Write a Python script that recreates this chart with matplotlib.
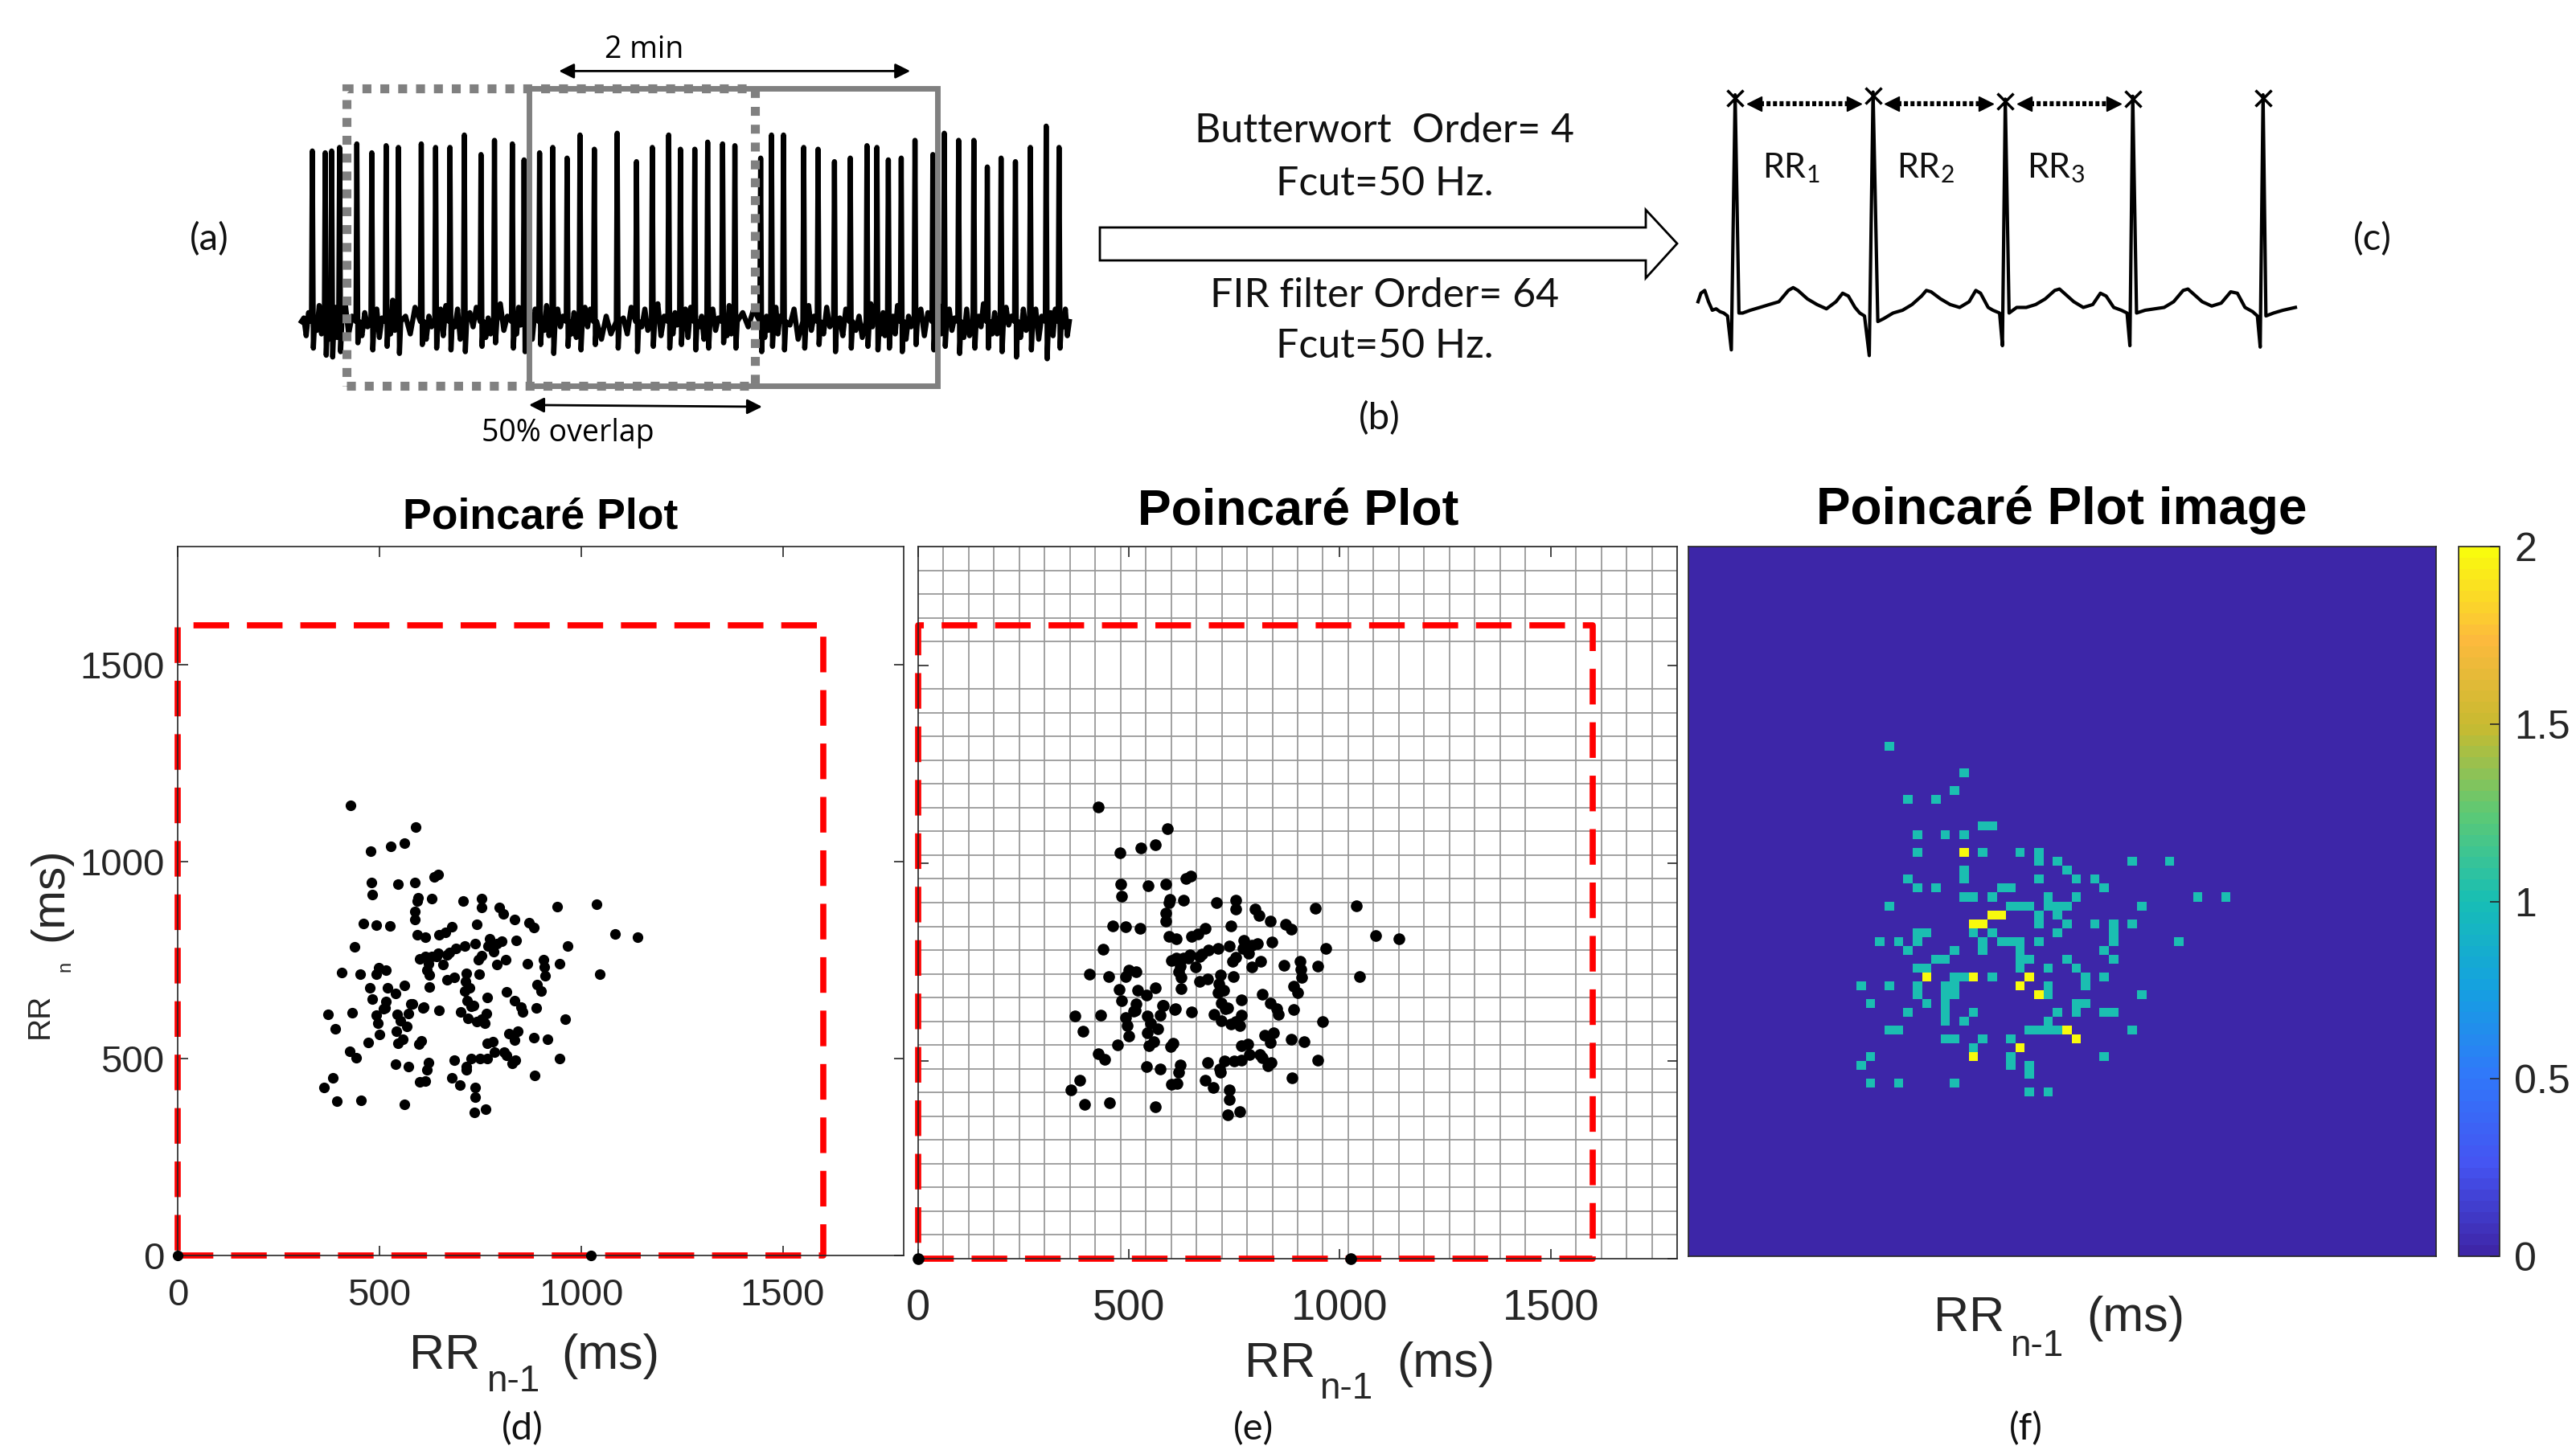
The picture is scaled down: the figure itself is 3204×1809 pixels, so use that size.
import numpy as np
import matplotlib
matplotlib.use("Agg")
import matplotlib.pyplot as plt
from matplotlib.colors import LinearSegmentedColormap
from matplotlib.patches import Polygon, Rectangle

W, H, DPI = 3204, 1809, 100

# ---------------- data: Poincare plot ----------------
rr_prev = [428,591,479,528,563,480,483,546,588,597,594,630,635,646,461,492,527,588,588,594,
           613,648,664,680,438,406,452,499,492,516,476,521,562,483,516,511,541,582,610,648,
           624,624,617,600,613,622,630,641,645,657,668,673,689,668,686,711,708,754,753,741,
           738,746,748,716,713,724,711,718,728,702,719,734,741,754,762,766,767,753,770,773,
           783,792,798,808,804,813,791,836,839,871,884,941,1039,1085,1141,1046,966,947,906,908,
           910,900,891,890,868,816,836,851,855,843,821,835,816,785,810,837,830,884,916,960,
           947,886,767,782,767,750,727,686,715,716,680,699,738,738,735,763,562,454,395,384,
           363,372,391,433,427,442,473,500,541,573,543,544,547,568,559,552,573,579,604,598,
           622,617,600,614,608,492,496,514]
rr_next = [1142,1087,1026,1039,1047,946,917,943,946,909,900,906,961,967,842,839,836,874,853,815,
           809,815,821,834,783,719,714,730,714,725,680,679,685,652,644,626,666,639,631,623,
           682,712,725,754,759,740,759,760,767,738,764,770,780,700,706,785,900,906,884,841,
           791,752,714,717,695,679,672,647,632,618,602,634,594,599,589,615,655,762,785,805,
           772,792,884,868,797,751,738,853,800,845,832,885,892,816,808,714,785,740,751,732,
           711,672,688,629,741,669,647,631,618,570,564,546,508,516,516,495,488,554,548,599,
           501,458,538,543,501,500,500,496,479,471,451,432,426,403,363,371,383,394,391,451,
           426,613,575,616,519,503,541,562,485,480,570,613,538,581,549,596,615,639,544,536,
           490,472,440,442,629,610,589,628]
zero_prev = [0, 1025]
zero_next = [0, 0]
image_range = [0, 1600]
image_bins = 80
grid_step = 60
axis_max = 1800
poincare_ticks = [0, 500, 1000, 1500]
cbar_ticks = [0, 0.5, 1, 1.5, 2]
cbar_ticklabels = ["0", "0.5", "1", "1.5", "2"]

# ---------------- data: ECG segment (a) ----------------
a_peak_t = [3.7,8.1,10.3,13.0,18.9,24.0,28.9,33.1,40.9,45.8,50.7,55.6,61.3,65.9,72.0,76.0,
            81.3,85.8,90.7,95.1,100.0,107.8,114.4,119.8,125.4,129.4,134.3,138.7,143.8,148.0,
            156.8,160.5,164.6,171.5,176.4,182.0,187.4,193.1,196.5,200.4,204.8,209.5,215.6,
            219.5,224.4,229.6,234.2,238.9,243.8,248.9,254.3,258.7]
a_peak_v = [0.96,0.95,0.96,0.98,1.0,0.95,0.99,0.98,1.0,0.98,0.98,1.05,0.94,1.02,1.0,0.91,
            0.95,0.98,0.92,1.05,0.97,1.06,0.9,0.98,1.05,0.97,0.97,1.01,1.0,0.99,0.92,1.05,
            1.05,0.98,0.97,0.9,0.92,0.99,0.98,0.91,0.92,1.02,0.94,1.06,1.02,1.02,0.87,0.92,
            0.9,0.98,1.1,0.98]
a_dip_v = [-0.15,-0.19,-0.20,-0.17,-0.12,-0.16,-0.14,-0.18,-0.13,-0.15,
           -0.16,-0.17,-0.14,-0.12,-0.15,-0.17,-0.13,-0.18,-0.14,-0.16,
           -0.13,-0.15,-0.17,-0.14,-0.15,-0.13,-0.16,-0.15,-0.12,-0.15,
           -0.17,-0.14,-0.16,-0.15,-0.13,-0.17,-0.15,-0.14,-0.16,-0.15,
           -0.17,-0.13,-0.16,-0.14,-0.18,-0.15,-0.15,-0.17,-0.20,-0.16,
           -0.21,-0.15]
a_wiggle = [0.02,-0.08,0.05, -0.05,0.09,-0.07, 0.03,-0.10,0.07, -0.03,0.08,-0.09,
            0.10,-0.07,0.03, -0.08,0.05,-0.03, 0.07,-0.09,0.02, -0.07,0.12,-0.05,
            0.03,-0.07,0.08, -0.10,0.03,-0.03, 0.07,-0.08,0.09, -0.03,0.07,-0.10,
            0.05,-0.03,0.08, -0.09,0.02,-0.07, 0.10,-0.05,0.03, -0.07,0.08,-0.02,
            0.03,-0.10,0.07, -0.05,0.09,-0.08, 0.07,-0.03,0.03, -0.07,0.05,-0.09,
            0.08,-0.03,0.07, -0.10,0.03,-0.07, 0.02,-0.07,0.08, -0.03,0.07,-0.05,
            0.10,-0.08,0.03, -0.07,0.05,-0.02, 0.07,-0.09,0.08, -0.03,0.03,-0.10,
            0.07,-0.05,0.02, -0.08,0.09,-0.07, 0.05,-0.03,0.07, -0.09,0.03,-0.05,
            0.08,-0.07,0.03, -0.02,0.07,-0.10, 0.09,-0.05,0.03, -0.07,0.08,-0.03,
            0.02,-0.08,0.07, -0.05,0.03,-0.09, 0.10,-0.03,0.07, -0.07,0.05,-0.08,
            0.03,-0.07,0.09, -0.10,0.03,-0.03, 0.07,-0.08,0.05, -0.03,0.09,-0.07,
            0.07,-0.05,0.02, -0.09,0.07,-0.08, 0.03,-0.03,0.10, -0.07,0.05,-0.07,
            0.08,-0.02,0.03, -0.09,0.07,-0.05, 0.07,-0.10,0.03, 0.05,-0.08,0.07,
            -0.03,0.07,-0.08]
a_end_t = 262.2
win_start = [15.4, 77.7]
win_len = 139.5
two_min = [87.9, 207.9]
overlap = [77.7, 157.3]

# ---------------- data: ECG detail (c) ----------------
c_t = [0,.015,.035,.055,.075,.095,.115,.135,.155,.175,.195,.215,.235,.275,.325,.375,.425,.475,.5,
       .525,.575,.625,.675,.725,.76,.79,.825,.85,.875,.9,.92,.945,.975,1.025,1.075,1.125,1.175,
       1.2,1.225,1.275,1.325,1.375,1.425,1.46,1.485,1.525,1.55,1.585,1.6,1.615,1.635,1.675,
       1.725,1.775,1.825,1.875,1.9,1.925,1.975,2.025,2.075,2.115,2.145,2.185,2.225,2.255,
       2.27,2.285,2.305,2.35,2.4,2.45,2.5,2.55,2.575,2.6,2.65,2.7,2.75,2.8,2.835,2.875,2.915,
       2.94,2.955,2.97,2.985,3.025,3.075,3.14]
c_v = [0.079,0.158,0.184,0.079,0.0,0.013,-0.013,-0.026,-0.053,-0.368,2.0,-0.026,-0.026,0.0,
       0.026,0.053,0.079,0.184,0.21,0.184,0.105,0.053,0.013,0.079,0.158,0.132,0.026,-0.026,
       -0.053,-0.421,2.026,-0.105,-0.079,-0.026,0.0,0.053,0.132,0.184,0.171,0.105,0.053,0.026,
       0.079,0.184,0.158,0.026,0.0,-0.026,-0.329,1.96,-0.026,0.026,0.026,0.053,0.105,0.184,
       0.197,0.158,0.079,0.026,0.053,0.158,0.132,0.026,0.0,-0.026,-0.329,1.987,-0.026,0.0,
       0.013,0.026,0.079,0.184,0.197,0.158,0.079,0.039,0.066,0.171,0.158,0.026,-0.013,-0.053,
       -0.342,2.0,-0.053,-0.026,0.0,0.026]
c_r_t = [0.195, 0.92, 1.615, 2.285, 2.97]
c_r_v = [1.97, 1.99, 1.94, 1.96, 1.97]
rr_names = [r"RR$_{1}$", r"RR$_{2}$", r"RR$_{3}$"]

# parula-like colormap anchors
parula_pos = [0.0, 0.125, 0.25, 0.375, 0.5, 0.625, 0.75, 0.875, 1.0]
parula_rgb = [(0.2422, 0.1504, 0.6603), (0.2700, 0.3300, 0.9500), (0.1900, 0.4700, 0.9800),
              (0.0800, 0.6300, 0.8800), (0.0900, 0.7450, 0.7100), (0.3600, 0.7900, 0.4600),
              (0.7800, 0.7300, 0.1900), (0.9900, 0.7300, 0.2400), (0.9763, 0.9831, 0.0538)]

# ---------------- figure ----------------
plt.rcParams['font.family'] = ['Liberation Sans', 'DejaVu Sans']
plt.rcParams['mathtext.default'] = 'regular'
TXT = '#262626'
LIGHT = dict(family=['Lato', 'DejaVu Sans'], fontweight='normal', color='#111111')

fig = plt.figure(figsize=(W / DPI, H / DPI), dpi=DPI)


def px_axes(l, t, r, b, **kw):
    return fig.add_axes([l / W, 1 - b / H, (r - l) / W, (b - t) / H], **kw)


ov = px_axes(0, 0, W, H)
ov.set_xlim(0, W)
ov.set_ylim(H, 0)
ov.axis('off')

# ---- (a) ECG segment with windows ----
ax_a = px_axes(375, 40, 1330, 560)
ax_a.set_xlim(0, a_end_t)
ax_a.set_ylim(-0.724, 1.629)
ax_a.axis('off')
tr_t, tr_v = [0.0], [0.0]
prev = 0.0
for i, (t, pv, dv) in enumerate(zip(a_peak_t, a_peak_v, a_dip_v)):
    w = a_wiggle[3 * i:3 * i + 3]
    seg_end = t - 0.5
    for j, val in enumerate(w):
        tr_t.append(prev + (seg_end - prev) * (j + 1) / (len(w) + 1))
        tr_v.append(val)
    tr_t += [t - 0.3, t, t + 0.35, t + 0.8]
    tr_v += [0.0, pv, dv, 0.0]
    prev = t + 0.8
w = a_wiggle[3 * len(a_peak_t):]
for j, val in enumerate(w):
    tr_t.append(prev + (a_end_t - prev) * (j + 1) / (len(w) + 1))
    tr_v.append(val)
tr_t.append(a_end_t)
tr_v.append(0.0)
ax_a.plot(tr_t, tr_v, color='k', lw=4.6, solid_joinstyle='round', clip_on=False, zorder=2)
ax_a.add_patch(Rectangle((win_start[0], -0.36), win_len, 1.67, fill=False, ec='#808080',
                         lw=8, ls=(0, (1, 1)), clip_on=False, zorder=3))
ax_a.add_patch(Rectangle((win_start[1], -0.36), win_len, 1.67, fill=False, ec='#808080',
                         lw=5, clip_on=False, zorder=3))
ax_a.annotate('', xy=(two_min[1], 1.41), xytext=(two_min[0], 1.41),
              arrowprops=dict(arrowstyle='<|-|>', color='k', lw=2, mutation_scale=28,
                              shrinkA=0, shrinkB=0), annotation_clip=False)
ax_a.text(117, 1.53, '2 min', ha='center', va='center', fontsize=27, family='Open Sans')
ax_a.annotate('', xy=(overlap[1], -0.48), xytext=(overlap[0], -0.47),
              arrowprops=dict(arrowstyle='<|-|>', color='k', lw=2, mutation_scale=28,
                              shrinkA=0, shrinkB=0), annotation_clip=False)
ax_a.text(91, -0.63, '50% overlap', ha='center', va='center', fontsize=27, family='Open Sans')

# ---- (b) arrow and filter text ----
ov.add_patch(Polygon([(1368, 283), (2047, 283), (2047, 261), (2086, 303), (2047, 346),
                      (2047, 324), (1368, 324)], closed=True, fc='white', ec='k', lw=2))
for txt, y in [("Butterwort  Order= 4", 163), ("Fcut=50 Hz.", 229),
               ("FIR filter Order= 64", 368), ("Fcut=50 Hz.", 431)]:
    ov.text(1722, y, txt, ha='center', va='center', fontsize=36, **LIGHT)

# ---- (c) ECG detail ----
ax_c = px_axes(2112, 100, 2855, 470)
ax_c.set_xlim(0, 3.14)
ax_c.set_ylim(-0.627, 2.134)
ax_c.axis('off')
ax_c.plot(c_t, c_v, color='k', lw=3, clip_on=False)
ax_c.plot(c_r_t, c_r_v, 'x', color='k', ms=14, mew=2.5, clip_on=False)
for i, name in enumerate(rr_names):
    t0, t1 = c_r_t[i] + 0.1, c_r_t[i + 1] - 0.1
    ax_c.plot([t0 + 0.03, t1 - 0.03], [1.92, 1.92], color='k', lw=4.5, ls=(0, (0.8, 0.5)),
              clip_on=False)
    ax_c.plot([t0], [1.92], marker='<', color='k', ms=13, clip_on=False)
    ax_c.plot([t1], [1.92], marker='>', color='k', ms=13, clip_on=False)
    ax_c.text((t0 + t1) / 2 - 0.07, 1.32, name, ha='center', va='center', fontsize=31, **LIGHT)

# panel letters
for lab, x, y in [("(a)", 260, 298), ("(b)", 1716, 521), ("(c)", 2951, 298),
                  ("(d)", 650, 1778), ("(e)", 1559, 1778), ("(f)", 2520, 1778)]:
    ov.text(x, y, lab, ha='center', va='center', fontsize=34, **LIGHT)


# ---- (d) Poincare plot ----
def style_poincare(ax, labelsize, xpad, ypad):
    ax.set_xlim(0, axis_max)
    ax.set_ylim(0, axis_max)
    ax.set_xticks(poincare_ticks)
    ax.set_yticks(poincare_ticks)
    ax.tick_params(direction='in', top=True, right=True, length=9, width=1.2,
                   colors=TXT, labelsize=labelsize)
    ax.tick_params(axis='x', pad=xpad)
    ax.tick_params(axis='y', pad=ypad)
    for s in ax.spines.values():
        s.set_color(TXT)
        s.set_linewidth(1.2)


def rr_xlabel(x_rr, x_sub, x_ms, base, sub_drop):
    ov.text(x_rr, base, 'RR', ha='left', va='baseline', fontsize=44, color=TXT)
    ov.text(x_sub, base + sub_drop, 'n-1', ha='left', va='baseline', fontsize=33, color=TXT)
    ov.text(x_ms, base, '(ms)', ha='left', va='baseline', fontsize=44, color=TXT)


box_x = [image_range[0], image_range[1], image_range[1], image_range[0], image_range[0]]
box_y = [image_range[0], image_range[0], image_range[1], image_range[1], image_range[0]]

ax_d = px_axes(221, 680, 1124, 1562)
style_poincare(ax_d, 34, 20, 12)
ax_d.plot(box_x, box_y, color='red', lw=5.5, ls=(0, (5.8, 2.9)), clip_on=False, zorder=2)
ax_d.plot(rr_prev, rr_next, 'o', color='k', ms=8.5, clip_on=False, zorder=3)
ax_d.plot(zero_prev, zero_next, 'o', color='k', ms=8.5, clip_on=False, zorder=3)

ov.text(672, 658, 'Poincaré Plot', ha='center', va='baseline', fontsize=38.5,
        fontweight='bold')
rr_xlabel(509, 605, 698, 1703, 28)
ov.text(50, 1264, 'RR', ha='center', va='center', fontsize=28, rotation=90, color=TXT)
ov.text(81, 1202, 'n', ha='center', va='center', fontsize=17, rotation=90, color=TXT)
ov.text(62, 1113, '(ms)', ha='center', va='center', fontsize=42, rotation=90, color=TXT)

# ---- (e) Poincare plot with grid ----
ax_e = px_axes(1142, 680, 2086, 1566)
style_poincare(ax_e, 39, 27, 12)
ax_e.set_yticklabels([])
ax_e.set_xticks(np.arange(0, axis_max + 1, grid_step), minor=True)
ax_e.set_yticks(np.arange(0, axis_max + 1, grid_step), minor=True)
ax_e.tick_params(which='minor', length=0)
ax_e.grid(which='minor', color='#9a9a9a', lw=1.3)
ax_e.grid(which='major', visible=False)
ax_e.set_axisbelow(True)
ax_e.plot(box_x, box_y, color='red', lw=5.5, ls=(0, (5.8, 2.9)), clip_on=False, zorder=2)
ax_e.plot(rr_prev, rr_next, 'o', color='k', ms=9.5, clip_on=False, zorder=3)
ax_e.plot(zero_prev, zero_next, 'o', color='k', ms=9.5, clip_on=False, zorder=3)
ov.text(1615, 654, 'Poincaré Plot', ha='center', va='baseline', fontsize=45, fontweight='bold')
rr_xlabel(1548, 1641, 1737, 1713, 27)

# ---- (f) Poincare plot image ----
parula = LinearSegmentedColormap.from_list('parula', list(zip(parula_pos, parula_rgb)), N=64)
counts, _, _ = np.histogram2d(rr_next, rr_prev, bins=image_bins,
                              range=[image_range, image_range])
ax_f = px_axes(2100, 680, 3030, 1563)
im = ax_f.imshow(counts, origin='lower', cmap=parula, vmin=0, vmax=2, aspect='auto',
                 interpolation='nearest',
                 extent=[image_range[0], image_range[1], image_range[0], image_range[1]])
ax_f.set_xticks([])
ax_f.set_yticks([])
for s in ax_f.spines.values():
    s.set_color(TXT)
    s.set_linewidth(1.2)
ov.text(2564, 652, 'Poincaré Plot image', ha='center', va='baseline', fontsize=46,
        fontweight='bold')
rr_xlabel(2405, 2500, 2595, 1656, 31)

ax_cb = px_axes(3058, 680, 3109, 1563)
cb = fig.colorbar(im, cax=ax_cb, ticks=cbar_ticks)
cb.ax.set_yticklabels(cbar_ticklabels)
cb.ax.tick_params(direction='in', length=9, width=1.2, labelsize=36, pad=13, colors=TXT)
cb.outline.set_edgecolor(TXT)
cb.outline.set_linewidth(1.2)

fig.savefig('out.png', dpi=DPI)
